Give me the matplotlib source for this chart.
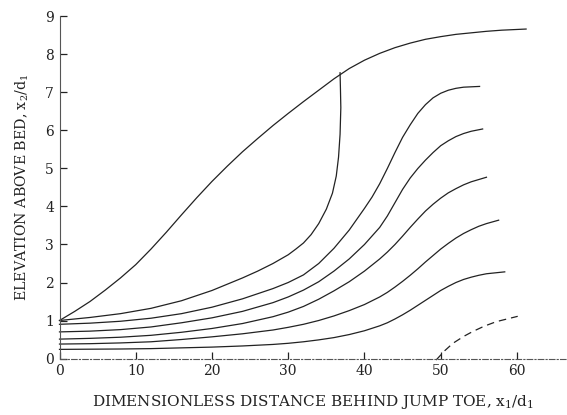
import matplotlib
matplotlib.use("Agg")
import matplotlib.pyplot as plt

plt.rcParams['font.family'] = ['DejaVu Serif']
plt.rcParams['mathtext.fontset'] = 'dejavuserif'

# upper envelope curve
xa = [0, 2, 4, 6, 8, 10, 12, 14, 16, 18, 20, 22, 24, 26, 28, 30, 32, 34, 36, 38,
      40, 42, 44, 46, 48, 50, 52, 54, 56, 58, 61.2]
ya = [1.0, 1.24, 1.5, 1.8, 2.12, 2.47, 2.88, 3.32, 3.78, 4.23, 4.66, 5.06, 5.44, 5.79, 6.13, 6.45,
      6.76, 7.06, 7.36, 7.63, 7.85, 8.03, 8.18, 8.3, 8.4, 8.47, 8.53, 8.57, 8.61, 8.64, 8.67]

# curve that turns vertical and meets the envelope
xb = [0, 4, 8, 12, 16, 20, 24, 26, 28, 30, 31, 32, 33, 34, 35, 35.8, 36.3, 36.6, 36.8, 36.9, 36.85, 36.8]
yb = [1.0, 1.08, 1.18, 1.32, 1.52, 1.79, 2.12, 2.3, 2.5, 2.73, 2.88, 3.04, 3.26, 3.55, 3.93, 4.35,
      4.8, 5.3, 5.9, 6.6, 7.1, 7.52]

xc = [0, 4, 8, 12, 16, 20, 24, 28, 30, 32, 34, 36, 38, 40, 41, 42, 43, 44, 45, 46, 47, 48, 49, 50,
      51, 52, 53, 55.1]
yc = [0.9, 0.93, 0.98, 1.06, 1.18, 1.35, 1.57, 1.84, 2.0, 2.2, 2.5, 2.9, 3.38, 3.95, 4.25, 4.6,
      5.0, 5.42, 5.82, 6.15, 6.45, 6.68, 6.86, 6.98, 7.06, 7.11, 7.14, 7.16]

xd = [0, 4, 8, 12, 16, 20, 24, 28, 30, 32, 34, 36, 38, 40, 42, 43, 44, 45, 46, 47, 48, 49, 50,
      51, 52, 53, 54, 55.5]
yd = [0.7, 0.72, 0.76, 0.83, 0.94, 1.07, 1.24, 1.47, 1.62, 1.8, 2.02, 2.3, 2.62, 3.0, 3.45, 3.75,
      4.1, 4.45, 4.75, 5.0, 5.22, 5.42, 5.6, 5.73, 5.84, 5.92, 5.98, 6.04]

xe = [0, 4, 8, 12, 16, 20, 24, 28, 30, 32, 34, 36, 38, 40, 42, 43, 44, 45, 46, 47, 48, 49, 50,
      51, 52, 53, 54, 55, 56]
ye = [0.51, 0.53, 0.56, 0.61, 0.69, 0.79, 0.92, 1.1, 1.22, 1.37, 1.56, 1.78, 2.02, 2.3, 2.62, 2.8,
      3.0, 3.22, 3.45, 3.67, 3.88, 4.06, 4.22, 4.36, 4.47, 4.57, 4.65, 4.71, 4.77]

xf = [0, 4, 8, 12, 16, 20, 24, 28, 30, 32, 34, 36, 38, 40, 42, 43, 44, 45, 46, 47, 48, 49, 50,
      51, 52, 53, 54, 55, 56, 57.6]
yf = [0.38, 0.39, 0.41, 0.44, 0.5, 0.57, 0.65, 0.75, 0.82, 0.9, 1.0, 1.12, 1.26, 1.42, 1.62, 1.74,
      1.88, 2.03, 2.19, 2.36, 2.54, 2.71, 2.88, 3.03, 3.17, 3.29, 3.39, 3.48, 3.55, 3.64]

xg = [0, 4, 8, 12, 16, 20, 24, 28, 30, 32, 34, 36, 38, 40, 42, 43, 44, 45, 46, 47, 48, 49, 50,
      51, 52, 53, 54, 55, 56, 58.4]
yg = [0.24, 0.245, 0.25, 0.26, 0.28, 0.3, 0.33, 0.37, 0.4, 0.44, 0.49, 0.55, 0.63, 0.73, 0.86, 0.94,
      1.04, 1.15, 1.27, 1.4, 1.53, 1.66, 1.79, 1.9, 2.0, 2.08, 2.14, 2.19, 2.23, 2.28]

# dashed branch near the bed
xh = [49.4, 50.5, 51.6, 53, 54.2, 55.7, 57.3, 60.1]
yh = [-0.04, 0.2, 0.4, 0.58, 0.71, 0.85, 0.97, 1.11]

xticks = [0, 10, 20, 30, 40, 50, 60]
yticks = [0, 1, 2, 3, 4, 5, 6, 7, 8, 9]

fig = plt.figure(figsize=(5.67, 4.15), dpi=100)
ax = fig.add_axes([59.5 / 567, 56.5 / 415, 507 / 567, 342 / 415])

ink = '#222222'
for xs, ys in [(xa, ya), (xb, yb), (xc, yc), (xd, yd), (xe, ye), (xf, yf), (xg, yg)]:
    ax.plot(xs, ys, color=ink, lw=0.9, clip_on=False)
ax.plot(xh, yh, color=ink, lw=0.9, ls=(0, (6, 4)), clip_on=False)

ax.set_xlim(0, 66.5)
ax.set_ylim(0, 9)
ax.set_xticks(xticks)
ax.set_yticks(yticks)

ax.spines['top'].set_visible(False)
ax.spines['right'].set_visible(False)
ax.spines['left'].set_color('#555555')
ax.spines['left'].set_linewidth(0.8)
ax.spines['bottom'].set_color('#555555')
ax.spines['bottom'].set_linewidth(0.8)
ax.spines['bottom'].set_linestyle((0, (5, 2, 1, 2)))

ax.tick_params(axis='both', direction='in', length=5, width=0.9, color=ink,
               labelsize=10, labelcolor=ink, pad=4)

ax.set_xlabel('DIMENSIONLESS DISTANCE BEHIND JUMP TOE, x$_1$/d$_1$',
              fontsize=11, color=ink, labelpad=11)
ax.set_ylabel('ELEVATION ABOVE BED, x$_2$/d$_1$',
              fontsize=10.2, color=ink, labelpad=10)

fig.savefig('out.png', dpi=100)
